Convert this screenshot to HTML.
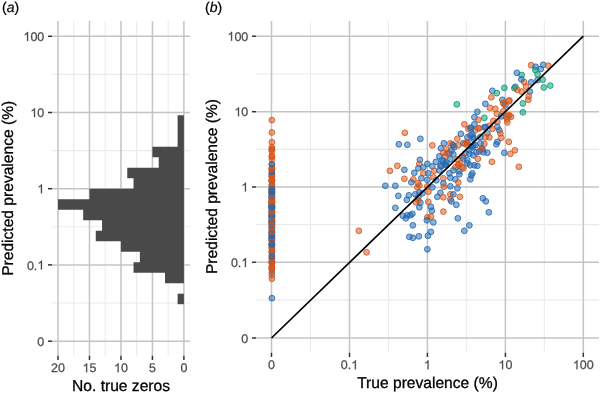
<!DOCTYPE html>
<html><head><meta charset="utf-8"><style>
html,body{margin:0;padding:0;background:#fff;width:600px;height:393px;overflow:hidden}
svg{display:block;will-change:transform}
text{text-rendering:geometricPrecision;font-family:"Liberation Sans",sans-serif;fill:#4D4D4D;stroke:#4D4D4D;stroke-width:0.25px}
</style></head><body>
<svg width="600" height="393" viewBox="0 0 600 393">
<rect width="600" height="393" fill="#fff"/>
<line x1="52.00" y1="74.40" x2="190.00" y2="74.40" stroke="#EBEBEB" stroke-width="1.1"/>
<line x1="52.00" y1="150.60" x2="190.00" y2="150.60" stroke="#EBEBEB" stroke-width="1.1"/>
<line x1="52.00" y1="226.80" x2="190.00" y2="226.80" stroke="#EBEBEB" stroke-width="1.1"/>
<line x1="52.00" y1="303.05" x2="190.00" y2="303.05" stroke="#EBEBEB" stroke-width="1.1"/>
<line x1="168.16" y1="21.00" x2="168.16" y2="355.70" stroke="#EBEBEB" stroke-width="1.1"/>
<line x1="136.69" y1="21.00" x2="136.69" y2="355.70" stroke="#EBEBEB" stroke-width="1.1"/>
<line x1="105.21" y1="21.00" x2="105.21" y2="355.70" stroke="#EBEBEB" stroke-width="1.1"/>
<line x1="73.74" y1="21.00" x2="73.74" y2="355.70" stroke="#EBEBEB" stroke-width="1.1"/>
<line x1="52.00" y1="36.30" x2="190.00" y2="36.30" stroke="#C4C4C4" stroke-width="1.5"/>
<line x1="52.00" y1="112.50" x2="190.00" y2="112.50" stroke="#C4C4C4" stroke-width="1.5"/>
<line x1="52.00" y1="188.70" x2="190.00" y2="188.70" stroke="#C4C4C4" stroke-width="1.5"/>
<line x1="52.00" y1="264.90" x2="190.00" y2="264.90" stroke="#C4C4C4" stroke-width="1.5"/>
<line x1="52.00" y1="341.20" x2="190.00" y2="341.20" stroke="#C4C4C4" stroke-width="1.5"/>
<line x1="183.90" y1="21.00" x2="183.90" y2="355.70" stroke="#C4C4C4" stroke-width="1.5"/>
<line x1="152.43" y1="21.00" x2="152.43" y2="355.70" stroke="#C4C4C4" stroke-width="1.5"/>
<line x1="120.95" y1="21.00" x2="120.95" y2="355.70" stroke="#C4C4C4" stroke-width="1.5"/>
<line x1="89.48" y1="21.00" x2="89.48" y2="355.70" stroke="#C4C4C4" stroke-width="1.5"/>
<line x1="58.00" y1="21.00" x2="58.00" y2="355.70" stroke="#C4C4C4" stroke-width="1.5"/>
<path d="M183.90,115.20 L177.61,115.20 L177.61,125.70 L177.61,125.70 L177.61,136.20 L177.61,136.20 L177.61,146.70 L152.43,146.70 L152.43,157.20 L158.72,157.20 L158.72,167.70 L127.25,167.70 L127.25,178.20 L133.54,178.20 L133.54,188.70 L89.48,188.70 L89.48,199.20 L58.00,199.20 L58.00,209.70 L83.18,209.70 L83.18,220.20 L102.07,220.20 L102.07,230.70 L95.77,230.70 L95.77,241.20 L120.95,241.20 L120.95,251.70 L139.84,251.70 L139.84,262.20 L133.54,262.20 L133.54,272.70 L165.02,272.70 L165.02,283.20 L183.90,283.20 Z" fill="#494949"/>
<path d="M183.90,293.70 L177.61,293.70 L177.61,304.20 L183.90,304.20 Z" fill="#494949"/>
<line x1="48.00" y1="36.30" x2="52.00" y2="36.30" stroke="#333333" stroke-width="1.5"/>
<line x1="48.00" y1="112.50" x2="52.00" y2="112.50" stroke="#333333" stroke-width="1.5"/>
<line x1="48.00" y1="188.70" x2="52.00" y2="188.70" stroke="#333333" stroke-width="1.5"/>
<line x1="48.00" y1="264.90" x2="52.00" y2="264.90" stroke="#333333" stroke-width="1.5"/>
<line x1="48.00" y1="341.20" x2="52.00" y2="341.20" stroke="#333333" stroke-width="1.5"/>
<line x1="183.90" y1="355.70" x2="183.90" y2="360.00" stroke="#333333" stroke-width="1.5"/>
<line x1="152.43" y1="355.70" x2="152.43" y2="360.00" stroke="#333333" stroke-width="1.5"/>
<line x1="120.95" y1="355.70" x2="120.95" y2="360.00" stroke="#333333" stroke-width="1.5"/>
<line x1="89.48" y1="355.70" x2="89.48" y2="360.00" stroke="#333333" stroke-width="1.5"/>
<line x1="58.00" y1="355.70" x2="58.00" y2="360.00" stroke="#333333" stroke-width="1.5"/>
<text x="44.30" y="40.90" font-size="12.5" text-anchor="end" ><tspan style="fill:none;stroke:none">1</tspan>00</text>
<path d="M763 0L583 0L583 1147C540 1106 483 1064 413 1023C343 982 280 951 223 930L223 1104C324 1151 412 1209 488 1276C564 1343 618 1407 649 1466L763 1466Z" transform="translate(23.450,40.900) scale(0.006104,-0.006104)" fill="#4D4D4D" stroke="#4D4D4D" stroke-width="41.0"/>
<text x="44.30" y="117.10" font-size="12.5" text-anchor="end" ><tspan style="fill:none;stroke:none">1</tspan>0</text>
<path d="M763 0L583 0L583 1147C540 1106 483 1064 413 1023C343 982 280 951 223 930L223 1104C324 1151 412 1209 488 1276C564 1343 618 1407 649 1466L763 1466Z" transform="translate(30.400,117.100) scale(0.006104,-0.006104)" fill="#4D4D4D" stroke="#4D4D4D" stroke-width="41.0"/>
<text x="44.30" y="193.30" font-size="12.5" text-anchor="end" ><tspan style="fill:none;stroke:none">1</tspan></text>
<path d="M763 0L583 0L583 1147C540 1106 483 1064 413 1023C343 982 280 951 223 930L223 1104C324 1151 412 1209 488 1276C564 1343 618 1407 649 1466L763 1466Z" transform="translate(37.350,193.300) scale(0.006104,-0.006104)" fill="#4D4D4D" stroke="#4D4D4D" stroke-width="41.0"/>
<text x="44.30" y="269.50" font-size="12.5" text-anchor="end" >0.<tspan style="fill:none;stroke:none">1</tspan></text>
<path d="M763 0L583 0L583 1147C540 1106 483 1064 413 1023C343 982 280 951 223 930L223 1104C324 1151 412 1209 488 1276C564 1343 618 1407 649 1466L763 1466Z" transform="translate(37.350,269.500) scale(0.006104,-0.006104)" fill="#4D4D4D" stroke="#4D4D4D" stroke-width="41.0"/>
<text x="44.30" y="345.80" font-size="12.5" text-anchor="end" >0</text>
<text x="183.90" y="372.20" font-size="12.5" text-anchor="middle" >0</text>
<text x="152.43" y="372.20" font-size="12.5" text-anchor="middle" >5</text>
<text x="120.95" y="372.20" font-size="12.5" text-anchor="middle" ><tspan style="fill:none;stroke:none">1</tspan>0</text>
<path d="M763 0L583 0L583 1147C540 1106 483 1064 413 1023C343 982 280 951 223 930L223 1104C324 1151 412 1209 488 1276C564 1343 618 1407 649 1466L763 1466Z" transform="translate(114.000,372.200) scale(0.006104,-0.006104)" fill="#4D4D4D" stroke="#4D4D4D" stroke-width="41.0"/>
<text x="89.48" y="372.20" font-size="12.5" text-anchor="middle" ><tspan style="fill:none;stroke:none">1</tspan>5</text>
<path d="M763 0L583 0L583 1147C540 1106 483 1064 413 1023C343 982 280 951 223 930L223 1104C324 1151 412 1209 488 1276C564 1343 618 1407 649 1466L763 1466Z" transform="translate(82.525,372.200) scale(0.006104,-0.006104)" fill="#4D4D4D" stroke="#4D4D4D" stroke-width="41.0"/>
<text x="58.00" y="372.20" font-size="12.5" text-anchor="middle" >20</text>
<text x="121.00" y="391.00" font-size="15.6" text-anchor="middle" style="fill:#000;stroke:#000;stroke-width:0.3px">No. true zeros</text>
<text transform="translate(12.6,188.3) rotate(-90)" font-size="15.6" text-anchor="middle" style="fill:#000;stroke:#000;stroke-width:0.3px">Predicted prevalence (%)</text>
<text x="2" y="11.8" font-size="14" style="fill:#000;stroke:#000;stroke-width:0.2px">(<tspan font-style="italic">a</tspan>)</text>
<line x1="256.00" y1="73.95" x2="599.00" y2="73.95" stroke="#EBEBEB" stroke-width="1.1"/>
<line x1="310.50" y1="21.00" x2="310.50" y2="352.70" stroke="#EBEBEB" stroke-width="1.1"/>
<line x1="256.00" y1="149.35" x2="599.00" y2="149.35" stroke="#EBEBEB" stroke-width="1.1"/>
<line x1="388.45" y1="21.00" x2="388.45" y2="352.70" stroke="#EBEBEB" stroke-width="1.1"/>
<line x1="256.00" y1="224.65" x2="599.00" y2="224.65" stroke="#EBEBEB" stroke-width="1.1"/>
<line x1="466.40" y1="21.00" x2="466.40" y2="352.70" stroke="#EBEBEB" stroke-width="1.1"/>
<line x1="256.00" y1="300.15" x2="599.00" y2="300.15" stroke="#EBEBEB" stroke-width="1.1"/>
<line x1="544.35" y1="21.00" x2="544.35" y2="352.70" stroke="#EBEBEB" stroke-width="1.1"/>
<line x1="256.00" y1="36.20" x2="599.00" y2="36.20" stroke="#C4C4C4" stroke-width="1.5"/>
<line x1="256.00" y1="111.70" x2="599.00" y2="111.70" stroke="#C4C4C4" stroke-width="1.5"/>
<line x1="256.00" y1="187.00" x2="599.00" y2="187.00" stroke="#C4C4C4" stroke-width="1.5"/>
<line x1="256.00" y1="262.30" x2="599.00" y2="262.30" stroke="#C4C4C4" stroke-width="1.5"/>
<line x1="256.00" y1="338.00" x2="599.00" y2="338.00" stroke="#C4C4C4" stroke-width="1.5"/>
<line x1="271.50" y1="21.00" x2="271.50" y2="352.70" stroke="#C4C4C4" stroke-width="1.5"/>
<line x1="349.50" y1="21.00" x2="349.50" y2="352.70" stroke="#C4C4C4" stroke-width="1.5"/>
<line x1="427.40" y1="21.00" x2="427.40" y2="352.70" stroke="#C4C4C4" stroke-width="1.5"/>
<line x1="505.40" y1="21.00" x2="505.40" y2="352.70" stroke="#C4C4C4" stroke-width="1.5"/>
<line x1="583.30" y1="21.00" x2="583.30" y2="352.70" stroke="#C4C4C4" stroke-width="1.5"/>
<line x1="252.00" y1="36.20" x2="256.00" y2="36.20" stroke="#333333" stroke-width="1.5"/>
<line x1="252.00" y1="111.70" x2="256.00" y2="111.70" stroke="#333333" stroke-width="1.5"/>
<line x1="252.00" y1="187.00" x2="256.00" y2="187.00" stroke="#333333" stroke-width="1.5"/>
<line x1="252.00" y1="262.30" x2="256.00" y2="262.30" stroke="#333333" stroke-width="1.5"/>
<line x1="252.00" y1="338.00" x2="256.00" y2="338.00" stroke="#333333" stroke-width="1.5"/>
<line x1="271.50" y1="352.70" x2="271.50" y2="357.00" stroke="#333333" stroke-width="1.5"/>
<line x1="349.50" y1="352.70" x2="349.50" y2="357.00" stroke="#333333" stroke-width="1.5"/>
<line x1="427.40" y1="352.70" x2="427.40" y2="357.00" stroke="#333333" stroke-width="1.5"/>
<line x1="505.40" y1="352.70" x2="505.40" y2="357.00" stroke="#333333" stroke-width="1.5"/>
<line x1="583.30" y1="352.70" x2="583.30" y2="357.00" stroke="#333333" stroke-width="1.5"/>
<text x="248.30" y="40.80" font-size="12.5" text-anchor="end" ><tspan style="fill:none;stroke:none">1</tspan>00</text>
<path d="M763 0L583 0L583 1147C540 1106 483 1064 413 1023C343 982 280 951 223 930L223 1104C324 1151 412 1209 488 1276C564 1343 618 1407 649 1466L763 1466Z" transform="translate(227.450,40.800) scale(0.006104,-0.006104)" fill="#4D4D4D" stroke="#4D4D4D" stroke-width="41.0"/>
<text x="248.30" y="116.30" font-size="12.5" text-anchor="end" ><tspan style="fill:none;stroke:none">1</tspan>0</text>
<path d="M763 0L583 0L583 1147C540 1106 483 1064 413 1023C343 982 280 951 223 930L223 1104C324 1151 412 1209 488 1276C564 1343 618 1407 649 1466L763 1466Z" transform="translate(234.400,116.300) scale(0.006104,-0.006104)" fill="#4D4D4D" stroke="#4D4D4D" stroke-width="41.0"/>
<text x="248.30" y="191.60" font-size="12.5" text-anchor="end" ><tspan style="fill:none;stroke:none">1</tspan></text>
<path d="M763 0L583 0L583 1147C540 1106 483 1064 413 1023C343 982 280 951 223 930L223 1104C324 1151 412 1209 488 1276C564 1343 618 1407 649 1466L763 1466Z" transform="translate(241.350,191.600) scale(0.006104,-0.006104)" fill="#4D4D4D" stroke="#4D4D4D" stroke-width="41.0"/>
<text x="248.30" y="266.90" font-size="12.5" text-anchor="end" >0.<tspan style="fill:none;stroke:none">1</tspan></text>
<path d="M763 0L583 0L583 1147C540 1106 483 1064 413 1023C343 982 280 951 223 930L223 1104C324 1151 412 1209 488 1276C564 1343 618 1407 649 1466L763 1466Z" transform="translate(241.350,266.900) scale(0.006104,-0.006104)" fill="#4D4D4D" stroke="#4D4D4D" stroke-width="41.0"/>
<text x="248.30" y="342.60" font-size="12.5" text-anchor="end" >0</text>
<text x="271.50" y="369.30" font-size="12.5" text-anchor="middle" >0</text>
<text x="349.50" y="369.30" font-size="12.5" text-anchor="middle" >0.<tspan style="fill:none;stroke:none">1</tspan></text>
<path d="M763 0L583 0L583 1147C540 1106 483 1064 413 1023C343 982 280 951 223 930L223 1104C324 1151 412 1209 488 1276C564 1343 618 1407 649 1466L763 1466Z" transform="translate(351.238,369.300) scale(0.006104,-0.006104)" fill="#4D4D4D" stroke="#4D4D4D" stroke-width="41.0"/>
<text x="427.40" y="369.30" font-size="12.5" text-anchor="middle" ><tspan style="fill:none;stroke:none">1</tspan></text>
<path d="M763 0L583 0L583 1147C540 1106 483 1064 413 1023C343 982 280 951 223 930L223 1104C324 1151 412 1209 488 1276C564 1343 618 1407 649 1466L763 1466Z" transform="translate(423.925,369.300) scale(0.006104,-0.006104)" fill="#4D4D4D" stroke="#4D4D4D" stroke-width="41.0"/>
<text x="505.40" y="369.30" font-size="12.5" text-anchor="middle" ><tspan style="fill:none;stroke:none">1</tspan>0</text>
<path d="M763 0L583 0L583 1147C540 1106 483 1064 413 1023C343 982 280 951 223 930L223 1104C324 1151 412 1209 488 1276C564 1343 618 1407 649 1466L763 1466Z" transform="translate(498.450,369.300) scale(0.006104,-0.006104)" fill="#4D4D4D" stroke="#4D4D4D" stroke-width="41.0"/>
<text x="583.30" y="369.30" font-size="12.5" text-anchor="middle" ><tspan style="fill:none;stroke:none">1</tspan>00</text>
<path d="M763 0L583 0L583 1147C540 1106 483 1064 413 1023C343 982 280 951 223 930L223 1104C324 1151 412 1209 488 1276C564 1343 618 1407 649 1466L763 1466Z" transform="translate(572.875,369.300) scale(0.006104,-0.006104)" fill="#4D4D4D" stroke="#4D4D4D" stroke-width="41.0"/>
<text x="427.50" y="388.30" font-size="15.6" text-anchor="middle" style="fill:#000;stroke:#000;stroke-width:0.3px">True prevalence (%)</text>
<text transform="translate(216.6,186.5) rotate(-90)" font-size="15.6" text-anchor="middle" style="fill:#000;stroke:#000;stroke-width:0.3px">Predicted prevalence (%)</text>
<text x="205" y="11.8" font-size="14" style="fill:#000;stroke:#000;stroke-width:0.2px">(<tspan font-style="italic">b</tspan>)</text>
<g fill-opacity="0.52" stroke-opacity="0.85" stroke-width="1.0"><circle cx="271.85" cy="202.67" r="2.9" fill="#2268B0" stroke="#2268B0"/><circle cx="271.85" cy="207.77" r="2.9" fill="#2268B0" stroke="#2268B0"/><circle cx="271.85" cy="230.35" r="2.9" fill="#D6561A" stroke="#D6561A"/><circle cx="271.85" cy="252.3" r="2.9" fill="#2268B0" stroke="#2268B0"/><circle cx="271.85" cy="175.88" r="2.9" fill="#D6561A" stroke="#D6561A"/><circle cx="271.85" cy="223.98" r="2.9" fill="#2268B0" stroke="#2268B0"/><circle cx="271.85" cy="267.78" r="2.9" fill="#D6561A" stroke="#D6561A"/><circle cx="271.85" cy="278.73" r="2.9" fill="#D6561A" stroke="#D6561A"/><circle cx="271.85" cy="272.48" r="2.9" fill="#2268B0" stroke="#2268B0"/><circle cx="271.85" cy="173.95" r="2.9" fill="#D6561A" stroke="#D6561A"/><circle cx="271.85" cy="156.69" r="2.9" fill="#D6561A" stroke="#D6561A"/><circle cx="271.85" cy="215.06" r="2.9" fill="#2268B0" stroke="#2268B0"/><circle cx="271.85" cy="197.97" r="2.9" fill="#D6561A" stroke="#D6561A"/><circle cx="271.85" cy="156.07" r="2.9" fill="#D6561A" stroke="#D6561A"/><circle cx="271.85" cy="132.4" r="2.9" fill="#D6561A" stroke="#D6561A"/><circle cx="271.85" cy="240.06" r="2.9" fill="#D6561A" stroke="#D6561A"/><circle cx="271.85" cy="221.52" r="2.9" fill="#D6561A" stroke="#D6561A"/><circle cx="271.85" cy="227.12" r="2.9" fill="#2268B0" stroke="#2268B0"/><circle cx="271.85" cy="198.55" r="2.9" fill="#2268B0" stroke="#2268B0"/><circle cx="271.85" cy="248.36" r="2.9" fill="#D6561A" stroke="#D6561A"/><circle cx="271.85" cy="208.29" r="2.9" fill="#2268B0" stroke="#2268B0"/><circle cx="271.85" cy="176.83" r="2.9" fill="#D6561A" stroke="#D6561A"/><circle cx="271.85" cy="247.73" r="2.9" fill="#D6561A" stroke="#D6561A"/><circle cx="271.85" cy="221.11" r="2.9" fill="#D6561A" stroke="#D6561A"/><circle cx="271.85" cy="201.75" r="2.9" fill="#2268B0" stroke="#2268B0"/><circle cx="271.85" cy="220.5" r="2.9" fill="#2268B0" stroke="#2268B0"/><circle cx="271.85" cy="232.85" r="2.9" fill="#D6561A" stroke="#D6561A"/><circle cx="271.85" cy="193.09" r="2.9" fill="#2268B0" stroke="#2268B0"/><circle cx="271.85" cy="245.14" r="2.9" fill="#D6561A" stroke="#D6561A"/><circle cx="271.85" cy="223.09" r="2.9" fill="#2268B0" stroke="#2268B0"/><circle cx="271.85" cy="235.48" r="2.9" fill="#2268B0" stroke="#2268B0"/><circle cx="271.85" cy="196.75" r="2.9" fill="#2268B0" stroke="#2268B0"/><circle cx="271.85" cy="180.86" r="2.9" fill="#2268B0" stroke="#2268B0"/><circle cx="271.85" cy="218.16" r="2.9" fill="#2268B0" stroke="#2268B0"/><circle cx="271.85" cy="185.13" r="2.9" fill="#2268B0" stroke="#2268B0"/><circle cx="271.85" cy="214.21" r="2.9" fill="#D6561A" stroke="#D6561A"/><circle cx="271.85" cy="258.89" r="2.9" fill="#D6561A" stroke="#D6561A"/><circle cx="271.85" cy="180.42" r="2.9" fill="#D6561A" stroke="#D6561A"/><circle cx="271.85" cy="238.7" r="2.9" fill="#2268B0" stroke="#2268B0"/><circle cx="271.85" cy="181.35" r="2.9" fill="#D6561A" stroke="#D6561A"/><circle cx="271.85" cy="193.73" r="2.9" fill="#D6561A" stroke="#D6561A"/><circle cx="271.85" cy="188.77" r="2.9" fill="#2268B0" stroke="#2268B0"/><circle cx="271.85" cy="252.08" r="2.9" fill="#2268B0" stroke="#2268B0"/><circle cx="271.85" cy="237.04" r="2.9" fill="#D6561A" stroke="#D6561A"/><circle cx="271.85" cy="238.73" r="2.9" fill="#D6561A" stroke="#D6561A"/><circle cx="271.85" cy="205.93" r="2.9" fill="#2268B0" stroke="#2268B0"/><circle cx="271.85" cy="261.9" r="2.9" fill="#2268B0" stroke="#2268B0"/><circle cx="271.85" cy="208.05" r="2.9" fill="#2268B0" stroke="#2268B0"/><circle cx="271.85" cy="217.66" r="2.9" fill="#2268B0" stroke="#2268B0"/><circle cx="271.85" cy="176.25" r="2.9" fill="#D6561A" stroke="#D6561A"/><circle cx="271.85" cy="202.86" r="2.9" fill="#2268B0" stroke="#2268B0"/><circle cx="271.85" cy="211.92" r="2.9" fill="#D6561A" stroke="#D6561A"/><circle cx="271.85" cy="204.09" r="2.9" fill="#2268B0" stroke="#2268B0"/><circle cx="271.85" cy="205.26" r="2.9" fill="#2268B0" stroke="#2268B0"/><circle cx="271.85" cy="241.29" r="2.9" fill="#2268B0" stroke="#2268B0"/><circle cx="271.85" cy="191.99" r="2.9" fill="#D6561A" stroke="#D6561A"/><circle cx="271.85" cy="151.54" r="2.9" fill="#D6561A" stroke="#D6561A"/><circle cx="271.85" cy="212.05" r="2.9" fill="#2268B0" stroke="#2268B0"/><circle cx="271.85" cy="298.2" r="2.9" fill="#2268B0" stroke="#2268B0"/><circle cx="271.85" cy="234.88" r="2.9" fill="#2268B0" stroke="#2268B0"/><circle cx="271.85" cy="190.28" r="2.9" fill="#D6561A" stroke="#D6561A"/><circle cx="271.85" cy="209.79" r="2.9" fill="#D6561A" stroke="#D6561A"/><circle cx="271.85" cy="262.73" r="2.9" fill="#2268B0" stroke="#2268B0"/><circle cx="271.85" cy="149.2" r="2.9" fill="#D6561A" stroke="#D6561A"/><circle cx="271.85" cy="216.55" r="2.9" fill="#2268B0" stroke="#2268B0"/><circle cx="271.85" cy="193.62" r="2.9" fill="#D6561A" stroke="#D6561A"/><circle cx="271.85" cy="192.8" r="2.9" fill="#2268B0" stroke="#2268B0"/><circle cx="271.85" cy="206.9" r="2.9" fill="#D6561A" stroke="#D6561A"/><circle cx="271.85" cy="169.51" r="2.9" fill="#D6561A" stroke="#D6561A"/><circle cx="271.85" cy="216.02" r="2.9" fill="#2268B0" stroke="#2268B0"/><circle cx="271.85" cy="232.1" r="2.9" fill="#2268B0" stroke="#2268B0"/><circle cx="271.85" cy="197.03" r="2.9" fill="#D6561A" stroke="#D6561A"/><circle cx="271.85" cy="238.19" r="2.9" fill="#2268B0" stroke="#2268B0"/><circle cx="271.85" cy="179.61" r="2.9" fill="#D6561A" stroke="#D6561A"/><circle cx="271.85" cy="227.21" r="2.9" fill="#2268B0" stroke="#2268B0"/><circle cx="271.85" cy="168.08" r="2.9" fill="#D6561A" stroke="#D6561A"/><circle cx="271.85" cy="261.34" r="2.9" fill="#D6561A" stroke="#D6561A"/><circle cx="271.85" cy="268.6" r="2.9" fill="#D6561A" stroke="#D6561A"/><circle cx="271.85" cy="263.32" r="2.9" fill="#D6561A" stroke="#D6561A"/><circle cx="271.85" cy="149.61" r="2.9" fill="#D6561A" stroke="#D6561A"/><circle cx="271.85" cy="201.61" r="2.9" fill="#2268B0" stroke="#2268B0"/><circle cx="271.85" cy="188.97" r="2.9" fill="#2268B0" stroke="#2268B0"/><circle cx="271.85" cy="174.08" r="2.9" fill="#D6561A" stroke="#D6561A"/><circle cx="271.85" cy="206.43" r="2.9" fill="#2268B0" stroke="#2268B0"/><circle cx="271.85" cy="120.1" r="2.9" fill="#D6561A" stroke="#D6561A"/><circle cx="271.85" cy="244.34" r="2.9" fill="#2268B0" stroke="#2268B0"/><circle cx="271.85" cy="226.66" r="2.9" fill="#D6561A" stroke="#D6561A"/><circle cx="271.85" cy="246.83" r="2.9" fill="#D6561A" stroke="#D6561A"/><circle cx="271.85" cy="213.0" r="2.9" fill="#2268B0" stroke="#2268B0"/><circle cx="271.85" cy="258.38" r="2.9" fill="#D6561A" stroke="#D6561A"/><circle cx="271.85" cy="266.45" r="2.9" fill="#D6561A" stroke="#D6561A"/><circle cx="271.85" cy="222.77" r="2.9" fill="#2268B0" stroke="#2268B0"/><circle cx="271.85" cy="200.28" r="2.9" fill="#D6561A" stroke="#D6561A"/><circle cx="271.85" cy="210.76" r="2.9" fill="#D6561A" stroke="#D6561A"/><circle cx="271.85" cy="221.63" r="2.9" fill="#2268B0" stroke="#2268B0"/><circle cx="271.85" cy="229.44" r="2.9" fill="#2268B0" stroke="#2268B0"/><circle cx="271.85" cy="233.77" r="2.9" fill="#2268B0" stroke="#2268B0"/><circle cx="271.85" cy="244.59" r="2.9" fill="#2268B0" stroke="#2268B0"/><circle cx="271.85" cy="206.09" r="2.9" fill="#2268B0" stroke="#2268B0"/><circle cx="271.85" cy="169.8" r="2.9" fill="#D6561A" stroke="#D6561A"/><circle cx="271.85" cy="190.94" r="2.9" fill="#D6561A" stroke="#D6561A"/><circle cx="271.85" cy="212.56" r="2.9" fill="#D6561A" stroke="#D6561A"/><circle cx="271.85" cy="199.76" r="2.9" fill="#D6561A" stroke="#D6561A"/><circle cx="271.85" cy="196.65" r="2.9" fill="#2268B0" stroke="#2268B0"/><circle cx="271.85" cy="147.05" r="2.9" fill="#D6561A" stroke="#D6561A"/><circle cx="271.85" cy="172.1" r="2.9" fill="#2268B0" stroke="#2268B0"/><circle cx="271.85" cy="240.45" r="2.9" fill="#D6561A" stroke="#D6561A"/><circle cx="271.85" cy="187.29" r="2.9" fill="#D6561A" stroke="#D6561A"/><circle cx="271.85" cy="203.66" r="2.9" fill="#D6561A" stroke="#D6561A"/><circle cx="271.85" cy="236.11" r="2.9" fill="#2268B0" stroke="#2268B0"/><circle cx="271.85" cy="159.21" r="2.9" fill="#D6561A" stroke="#D6561A"/><circle cx="271.85" cy="215.51" r="2.9" fill="#2268B0" stroke="#2268B0"/><circle cx="271.85" cy="255.25" r="2.9" fill="#D6561A" stroke="#D6561A"/><circle cx="271.85" cy="191.31" r="2.9" fill="#2268B0" stroke="#2268B0"/><circle cx="271.85" cy="211.82" r="2.9" fill="#D6561A" stroke="#D6561A"/><circle cx="271.85" cy="185.26" r="2.9" fill="#D6561A" stroke="#D6561A"/><circle cx="271.85" cy="189.41" r="2.9" fill="#2268B0" stroke="#2268B0"/><circle cx="271.85" cy="142.1" r="2.9" fill="#D6561A" stroke="#D6561A"/><circle cx="271.85" cy="205.95" r="2.9" fill="#2268B0" stroke="#2268B0"/><circle cx="271.85" cy="256.26" r="2.9" fill="#2268B0" stroke="#2268B0"/><circle cx="271.85" cy="224.38" r="2.9" fill="#2268B0" stroke="#2268B0"/><circle cx="271.85" cy="203.17" r="2.9" fill="#D6561A" stroke="#D6561A"/><circle cx="271.85" cy="195.77" r="2.9" fill="#2268B0" stroke="#2268B0"/><circle cx="271.85" cy="225.81" r="2.9" fill="#D6561A" stroke="#D6561A"/><circle cx="271.85" cy="269.69" r="2.9" fill="#D6561A" stroke="#D6561A"/><circle cx="271.85" cy="207.77" r="2.9" fill="#2268B0" stroke="#2268B0"/><circle cx="271.85" cy="220.02" r="2.9" fill="#D6561A" stroke="#D6561A"/><circle cx="271.85" cy="275.14" r="2.9" fill="#D6561A" stroke="#D6561A"/><circle cx="271.85" cy="168.16" r="2.9" fill="#D6561A" stroke="#D6561A"/><circle cx="271.85" cy="244.02" r="2.9" fill="#2268B0" stroke="#2268B0"/><circle cx="271.85" cy="165.11" r="2.9" fill="#D6561A" stroke="#D6561A"/><circle cx="271.85" cy="232.66" r="2.9" fill="#2268B0" stroke="#2268B0"/><circle cx="271.85" cy="250.76" r="2.9" fill="#D6561A" stroke="#D6561A"/><circle cx="271.85" cy="231.86" r="2.9" fill="#D6561A" stroke="#D6561A"/><circle cx="271.85" cy="164.07" r="2.9" fill="#2268B0" stroke="#2268B0"/><circle cx="271.85" cy="198.13" r="2.9" fill="#D6561A" stroke="#D6561A"/><circle cx="531.15" cy="65.2" r="2.9" fill="#D6561A" stroke="#D6561A"/><circle cx="535.65" cy="66.8" r="2.9" fill="#2268B0" stroke="#2268B0"/><circle cx="543.25" cy="64.8" r="2.9" fill="#2268B0" stroke="#2268B0"/><circle cx="548.35" cy="65.7" r="2.9" fill="#D6561A" stroke="#D6561A"/><circle cx="535.35" cy="69.9" r="2.9" fill="#009E73" stroke="#009E73"/><circle cx="540.75" cy="69.0" r="2.9" fill="#2268B0" stroke="#2268B0"/><circle cx="537.55" cy="74.4" r="2.9" fill="#009E73" stroke="#009E73"/><circle cx="521.65" cy="75.0" r="2.9" fill="#009E73" stroke="#009E73"/><circle cx="537.55" cy="80.1" r="2.9" fill="#2268B0" stroke="#2268B0"/><circle cx="542.65" cy="79.7" r="2.9" fill="#009E73" stroke="#009E73"/><circle cx="531.15" cy="82.3" r="2.9" fill="#2268B0" stroke="#2268B0"/><circle cx="524.15" cy="82.0" r="2.9" fill="#D6561A" stroke="#D6561A"/><circle cx="526.05" cy="86.5" r="2.9" fill="#D6561A" stroke="#D6561A"/><circle cx="543.85" cy="87.4" r="2.9" fill="#009E73" stroke="#009E73"/><circle cx="550.25" cy="85.6" r="2.9" fill="#009E73" stroke="#009E73"/><circle cx="529.85" cy="91.6" r="2.9" fill="#2268B0" stroke="#2268B0"/><circle cx="521.65" cy="91.6" r="2.9" fill="#D6561A" stroke="#D6561A"/><circle cx="528.65" cy="96.3" r="2.9" fill="#D6561A" stroke="#D6561A"/><circle cx="528.35" cy="99.8" r="2.9" fill="#D6561A" stroke="#D6561A"/><circle cx="522.85" cy="103.4" r="2.9" fill="#009E73" stroke="#009E73"/><circle cx="516.85" cy="72.8" r="2.9" fill="#2268B0" stroke="#2268B0"/><circle cx="521.35" cy="79.3" r="2.9" fill="#2268B0" stroke="#2268B0"/><circle cx="515.35" cy="86.8" r="2.9" fill="#2268B0" stroke="#2268B0"/><circle cx="514.35" cy="88.1" r="2.9" fill="#009E73" stroke="#009E73"/><circle cx="504.35" cy="87.8" r="2.9" fill="#009E73" stroke="#009E73"/><circle cx="517.35" cy="89.8" r="2.9" fill="#D6561A" stroke="#D6561A"/><circle cx="492.35" cy="90.8" r="2.9" fill="#2268B0" stroke="#2268B0"/><circle cx="496.85" cy="93.1" r="2.9" fill="#009E73" stroke="#009E73"/><circle cx="491.35" cy="97.3" r="2.9" fill="#D6561A" stroke="#D6561A"/><circle cx="502.35" cy="99.8" r="2.9" fill="#2268B0" stroke="#2268B0"/><circle cx="509.35" cy="100.3" r="2.9" fill="#D6561A" stroke="#D6561A"/><circle cx="503.35" cy="102.8" r="2.9" fill="#D6561A" stroke="#D6561A"/><circle cx="485.35" cy="103.8" r="2.9" fill="#2268B0" stroke="#2268B0"/><circle cx="505.35" cy="105.3" r="2.9" fill="#2268B0" stroke="#2268B0"/><circle cx="489.85" cy="107.8" r="2.9" fill="#D6561A" stroke="#D6561A"/><circle cx="495.35" cy="108.8" r="2.9" fill="#D6561A" stroke="#D6561A"/><circle cx="477.35" cy="111.8" r="2.9" fill="#2268B0" stroke="#2268B0"/><circle cx="496.85" cy="113.8" r="2.9" fill="#D6561A" stroke="#D6561A"/><circle cx="503.35" cy="111.3" r="2.9" fill="#D6561A" stroke="#D6561A"/><circle cx="509.35" cy="115.3" r="2.9" fill="#D6561A" stroke="#D6561A"/><circle cx="506.35" cy="116.8" r="2.9" fill="#D6561A" stroke="#D6561A"/><circle cx="501.35" cy="116.3" r="2.9" fill="#2268B0" stroke="#2268B0"/><circle cx="522.85" cy="112.3" r="2.9" fill="#009E73" stroke="#009E73"/><circle cx="484.35" cy="117.8" r="2.9" fill="#009E73" stroke="#009E73"/><circle cx="474.35" cy="117.3" r="2.9" fill="#2268B0" stroke="#2268B0"/><circle cx="478.35" cy="119.8" r="2.9" fill="#D6561A" stroke="#D6561A"/><circle cx="507.35" cy="122.3" r="2.9" fill="#D6561A" stroke="#D6561A"/><circle cx="493.35" cy="120.8" r="2.9" fill="#D6561A" stroke="#D6561A"/><circle cx="497.35" cy="121.8" r="2.9" fill="#D6561A" stroke="#D6561A"/><circle cx="474.35" cy="124.3" r="2.9" fill="#2268B0" stroke="#2268B0"/><circle cx="489.35" cy="125.8" r="2.9" fill="#D6561A" stroke="#D6561A"/><circle cx="484.35" cy="127.3" r="2.9" fill="#2268B0" stroke="#2268B0"/><circle cx="497.35" cy="126.8" r="2.9" fill="#2268B0" stroke="#2268B0"/><circle cx="492.35" cy="128.8" r="2.9" fill="#D6561A" stroke="#D6561A"/><circle cx="479.35" cy="128.3" r="2.9" fill="#D6561A" stroke="#D6561A"/><circle cx="475.35" cy="130.3" r="2.9" fill="#D6561A" stroke="#D6561A"/><circle cx="471.35" cy="128.3" r="2.9" fill="#2268B0" stroke="#2268B0"/><circle cx="499.35" cy="130.3" r="2.9" fill="#2268B0" stroke="#2268B0"/><circle cx="500.35" cy="133.3" r="2.9" fill="#D6561A" stroke="#D6561A"/><circle cx="487.35" cy="133.3" r="2.9" fill="#2268B0" stroke="#2268B0"/><circle cx="472.35" cy="134.3" r="2.9" fill="#2268B0" stroke="#2268B0"/><circle cx="485.35" cy="137.3" r="2.9" fill="#D6561A" stroke="#D6561A"/><circle cx="501.35" cy="137.8" r="2.9" fill="#D6561A" stroke="#D6561A"/><circle cx="456.85" cy="104.3" r="2.9" fill="#009E73" stroke="#009E73"/><circle cx="464.35" cy="124.3" r="2.9" fill="#D6561A" stroke="#D6561A"/><circle cx="468.35" cy="128.8" r="2.9" fill="#D6561A" stroke="#D6561A"/><circle cx="460.85" cy="133.8" r="2.9" fill="#2268B0" stroke="#2268B0"/><circle cx="467.35" cy="137.3" r="2.9" fill="#2268B0" stroke="#2268B0"/><circle cx="457.35" cy="138.8" r="2.9" fill="#D6561A" stroke="#D6561A"/><circle cx="420.35" cy="138.8" r="2.9" fill="#2268B0" stroke="#2268B0"/><circle cx="432.35" cy="145.3" r="2.9" fill="#D6561A" stroke="#D6561A"/><circle cx="443.85" cy="143.3" r="2.9" fill="#2268B0" stroke="#2268B0"/><circle cx="450.35" cy="143.3" r="2.9" fill="#D6561A" stroke="#D6561A"/><circle cx="440.85" cy="148.3" r="2.9" fill="#2268B0" stroke="#2268B0"/><circle cx="446.35" cy="148.8" r="2.9" fill="#D6561A" stroke="#D6561A"/><circle cx="454.35" cy="147.3" r="2.9" fill="#2268B0" stroke="#2268B0"/><circle cx="452.35" cy="144.3" r="2.9" fill="#D6561A" stroke="#D6561A"/><circle cx="458.35" cy="145.3" r="2.9" fill="#D6561A" stroke="#D6561A"/><circle cx="463.35" cy="143.3" r="2.9" fill="#2268B0" stroke="#2268B0"/><circle cx="467.35" cy="142.3" r="2.9" fill="#2268B0" stroke="#2268B0"/><circle cx="467.35" cy="145.3" r="2.9" fill="#D6561A" stroke="#D6561A"/><circle cx="469.35" cy="150.3" r="2.9" fill="#2268B0" stroke="#2268B0"/><circle cx="472.35" cy="147.3" r="2.9" fill="#2268B0" stroke="#2268B0"/><circle cx="443.35" cy="152.8" r="2.9" fill="#D6561A" stroke="#D6561A"/><circle cx="445.35" cy="155.8" r="2.9" fill="#D6561A" stroke="#D6561A"/><circle cx="449.35" cy="153.3" r="2.9" fill="#2268B0" stroke="#2268B0"/><circle cx="453.35" cy="154.3" r="2.9" fill="#2268B0" stroke="#2268B0"/><circle cx="439.35" cy="156.3" r="2.9" fill="#2268B0" stroke="#2268B0"/><circle cx="473.35" cy="155.3" r="2.9" fill="#2268B0" stroke="#2268B0"/><circle cx="465.35" cy="153.3" r="2.9" fill="#2268B0" stroke="#2268B0"/><circle cx="462.35" cy="156.3" r="2.9" fill="#D6561A" stroke="#D6561A"/><circle cx="419.85" cy="159.8" r="2.9" fill="#2268B0" stroke="#2268B0"/><circle cx="419.35" cy="163.8" r="2.9" fill="#D6561A" stroke="#D6561A"/><circle cx="427.35" cy="163.8" r="2.9" fill="#2268B0" stroke="#2268B0"/><circle cx="435.85" cy="161.8" r="2.9" fill="#2268B0" stroke="#2268B0"/><circle cx="441.85" cy="160.3" r="2.9" fill="#2268B0" stroke="#2268B0"/><circle cx="446.35" cy="162.3" r="2.9" fill="#2268B0" stroke="#2268B0"/><circle cx="450.35" cy="159.3" r="2.9" fill="#2268B0" stroke="#2268B0"/><circle cx="457.35" cy="159.3" r="2.9" fill="#D6561A" stroke="#D6561A"/><circle cx="467.35" cy="160.3" r="2.9" fill="#2268B0" stroke="#2268B0"/><circle cx="460.35" cy="163.3" r="2.9" fill="#D6561A" stroke="#D6561A"/><circle cx="470.35" cy="165.3" r="2.9" fill="#2268B0" stroke="#2268B0"/><circle cx="418.35" cy="168.3" r="2.9" fill="#2268B0" stroke="#2268B0"/><circle cx="423.35" cy="167.3" r="2.9" fill="#2268B0" stroke="#2268B0"/><circle cx="432.35" cy="166.3" r="2.9" fill="#2268B0" stroke="#2268B0"/><circle cx="440.35" cy="165.8" r="2.9" fill="#2268B0" stroke="#2268B0"/><circle cx="446.35" cy="165.3" r="2.9" fill="#2268B0" stroke="#2268B0"/><circle cx="455.35" cy="167.3" r="2.9" fill="#D6561A" stroke="#D6561A"/><circle cx="458.35" cy="165.3" r="2.9" fill="#D6561A" stroke="#D6561A"/><circle cx="463.35" cy="168.3" r="2.9" fill="#D6561A" stroke="#D6561A"/><circle cx="474.35" cy="165.3" r="2.9" fill="#2268B0" stroke="#2268B0"/><circle cx="434.35" cy="170.8" r="2.9" fill="#D6561A" stroke="#D6561A"/><circle cx="439.35" cy="170.3" r="2.9" fill="#2268B0" stroke="#2268B0"/><circle cx="459.35" cy="171.3" r="2.9" fill="#2268B0" stroke="#2268B0"/><circle cx="423.35" cy="173.3" r="2.9" fill="#D6561A" stroke="#D6561A"/><circle cx="428.35" cy="173.3" r="2.9" fill="#2268B0" stroke="#2268B0"/><circle cx="472.35" cy="173.3" r="2.9" fill="#2268B0" stroke="#2268B0"/><circle cx="473.35" cy="137.3" r="2.9" fill="#2268B0" stroke="#2268B0"/><circle cx="508.85" cy="141.8" r="2.9" fill="#D6561A" stroke="#D6561A"/><circle cx="497.35" cy="141.8" r="2.9" fill="#2268B0" stroke="#2268B0"/><circle cx="496.35" cy="144.3" r="2.9" fill="#2268B0" stroke="#2268B0"/><circle cx="484.35" cy="143.8" r="2.9" fill="#D6561A" stroke="#D6561A"/><circle cx="480.35" cy="143.3" r="2.9" fill="#2268B0" stroke="#2268B0"/><circle cx="475.35" cy="145.3" r="2.9" fill="#2268B0" stroke="#2268B0"/><circle cx="482.35" cy="149.3" r="2.9" fill="#D6561A" stroke="#D6561A"/><circle cx="479.35" cy="151.3" r="2.9" fill="#2268B0" stroke="#2268B0"/><circle cx="487.35" cy="152.8" r="2.9" fill="#2268B0" stroke="#2268B0"/><circle cx="483.35" cy="152.3" r="2.9" fill="#2268B0" stroke="#2268B0"/><circle cx="476.35" cy="152.3" r="2.9" fill="#2268B0" stroke="#2268B0"/><circle cx="504.35" cy="152.8" r="2.9" fill="#2268B0" stroke="#2268B0"/><circle cx="510.35" cy="153.8" r="2.9" fill="#D6561A" stroke="#D6561A"/><circle cx="514.85" cy="150.3" r="2.9" fill="#D6561A" stroke="#D6561A"/><circle cx="477.85" cy="158.8" r="2.9" fill="#D6561A" stroke="#D6561A"/><circle cx="491.85" cy="161.8" r="2.9" fill="#D6561A" stroke="#D6561A"/><circle cx="477.35" cy="165.8" r="2.9" fill="#2268B0" stroke="#2268B0"/><circle cx="518.85" cy="166.8" r="2.9" fill="#D6561A" stroke="#D6561A"/><circle cx="398.85" cy="144.3" r="2.9" fill="#2268B0" stroke="#2268B0"/><circle cx="407.35" cy="144.8" r="2.9" fill="#2268B0" stroke="#2268B0"/><circle cx="397.35" cy="165.8" r="2.9" fill="#D6561A" stroke="#D6561A"/><circle cx="389.85" cy="170.8" r="2.9" fill="#D6561A" stroke="#D6561A"/><circle cx="404.35" cy="169.8" r="2.9" fill="#2268B0" stroke="#2268B0"/><circle cx="414.35" cy="172.8" r="2.9" fill="#2268B0" stroke="#2268B0"/><circle cx="404.85" cy="132.8" r="2.9" fill="#D6561A" stroke="#D6561A"/><circle cx="404.35" cy="178.8" r="2.9" fill="#D6561A" stroke="#D6561A"/><circle cx="413.35" cy="179.3" r="2.9" fill="#D6561A" stroke="#D6561A"/><circle cx="411.35" cy="182.3" r="2.9" fill="#2268B0" stroke="#2268B0"/><circle cx="417.85" cy="183.3" r="2.9" fill="#D6561A" stroke="#D6561A"/><circle cx="417.35" cy="187.3" r="2.9" fill="#D6561A" stroke="#D6561A"/><circle cx="385.35" cy="185.8" r="2.9" fill="#2268B0" stroke="#2268B0"/><circle cx="395.35" cy="185.8" r="2.9" fill="#2268B0" stroke="#2268B0"/><circle cx="398.35" cy="195.8" r="2.9" fill="#2268B0" stroke="#2268B0"/><circle cx="408.85" cy="195.3" r="2.9" fill="#2268B0" stroke="#2268B0"/><circle cx="406.85" cy="199.8" r="2.9" fill="#2268B0" stroke="#2268B0"/><circle cx="415.35" cy="194.3" r="2.9" fill="#2268B0" stroke="#2268B0"/><circle cx="415.85" cy="202.3" r="2.9" fill="#D6561A" stroke="#D6561A"/><circle cx="395.35" cy="207.8" r="2.9" fill="#2268B0" stroke="#2268B0"/><circle cx="419.35" cy="192.3" r="2.9" fill="#2268B0" stroke="#2268B0"/><circle cx="419.35" cy="207.3" r="2.9" fill="#2268B0" stroke="#2268B0"/><circle cx="449.35" cy="173.3" r="2.9" fill="#2268B0" stroke="#2268B0"/><circle cx="459.35" cy="174.3" r="2.9" fill="#2268B0" stroke="#2268B0"/><circle cx="433.35" cy="177.3" r="2.9" fill="#D6561A" stroke="#D6561A"/><circle cx="421.35" cy="178.3" r="2.9" fill="#2268B0" stroke="#2268B0"/><circle cx="427.35" cy="179.8" r="2.9" fill="#2268B0" stroke="#2268B0"/><circle cx="436.35" cy="180.3" r="2.9" fill="#2268B0" stroke="#2268B0"/><circle cx="443.35" cy="178.3" r="2.9" fill="#D6561A" stroke="#D6561A"/><circle cx="450.35" cy="177.8" r="2.9" fill="#2268B0" stroke="#2268B0"/><circle cx="455.35" cy="179.3" r="2.9" fill="#2268B0" stroke="#2268B0"/><circle cx="458.35" cy="182.3" r="2.9" fill="#D6561A" stroke="#D6561A"/><circle cx="471.35" cy="175.3" r="2.9" fill="#2268B0" stroke="#2268B0"/><circle cx="470.35" cy="179.3" r="2.9" fill="#2268B0" stroke="#2268B0"/><circle cx="419.35" cy="185.3" r="2.9" fill="#D6561A" stroke="#D6561A"/><circle cx="427.35" cy="186.3" r="2.9" fill="#D6561A" stroke="#D6561A"/><circle cx="432.35" cy="187.3" r="2.9" fill="#2268B0" stroke="#2268B0"/><circle cx="443.35" cy="183.3" r="2.9" fill="#2268B0" stroke="#2268B0"/><circle cx="443.85" cy="186.8" r="2.9" fill="#D6561A" stroke="#D6561A"/><circle cx="450.35" cy="186.3" r="2.9" fill="#2268B0" stroke="#2268B0"/><circle cx="457.35" cy="188.3" r="2.9" fill="#2268B0" stroke="#2268B0"/><circle cx="428.35" cy="191.8" r="2.9" fill="#D6561A" stroke="#D6561A"/><circle cx="422.35" cy="193.3" r="2.9" fill="#2268B0" stroke="#2268B0"/><circle cx="440.35" cy="192.8" r="2.9" fill="#2268B0" stroke="#2268B0"/><circle cx="437.35" cy="196.8" r="2.9" fill="#2268B0" stroke="#2268B0"/><circle cx="443.35" cy="197.3" r="2.9" fill="#D6561A" stroke="#D6561A"/><circle cx="450.35" cy="194.3" r="2.9" fill="#D6561A" stroke="#D6561A"/><circle cx="453.35" cy="194.3" r="2.9" fill="#2268B0" stroke="#2268B0"/><circle cx="459.85" cy="196.8" r="2.9" fill="#D6561A" stroke="#D6561A"/><circle cx="450.35" cy="199.3" r="2.9" fill="#D6561A" stroke="#D6561A"/><circle cx="451.35" cy="201.3" r="2.9" fill="#2268B0" stroke="#2268B0"/><circle cx="428.35" cy="201.8" r="2.9" fill="#D6561A" stroke="#D6561A"/><circle cx="420.35" cy="202.8" r="2.9" fill="#2268B0" stroke="#2268B0"/><circle cx="418.35" cy="197.3" r="2.9" fill="#2268B0" stroke="#2268B0"/><circle cx="418.35" cy="200.3" r="2.9" fill="#D6561A" stroke="#D6561A"/><circle cx="456.35" cy="204.8" r="2.9" fill="#2268B0" stroke="#2268B0"/><circle cx="430.85" cy="206.8" r="2.9" fill="#2268B0" stroke="#2268B0"/><circle cx="443.35" cy="211.6" r="2.9" fill="#D6561A" stroke="#D6561A"/><circle cx="482.85" cy="198.3" r="2.9" fill="#2268B0" stroke="#2268B0"/><circle cx="485.85" cy="201.3" r="2.9" fill="#2268B0" stroke="#2268B0"/><circle cx="488.85" cy="212.3" r="2.9" fill="#2268B0" stroke="#2268B0"/><circle cx="431.85" cy="210.8" r="2.9" fill="#2268B0" stroke="#2268B0"/><circle cx="427.35" cy="217.3" r="2.9" fill="#D6561A" stroke="#D6561A"/><circle cx="430.85" cy="216.8" r="2.9" fill="#D6561A" stroke="#D6561A"/><circle cx="426.85" cy="220.3" r="2.9" fill="#2268B0" stroke="#2268B0"/><circle cx="433.35" cy="222.3" r="2.9" fill="#2268B0" stroke="#2268B0"/><circle cx="457.85" cy="218.3" r="2.9" fill="#2268B0" stroke="#2268B0"/><circle cx="469.35" cy="225.3" r="2.9" fill="#2268B0" stroke="#2268B0"/><circle cx="464.35" cy="230.8" r="2.9" fill="#2268B0" stroke="#2268B0"/><circle cx="430.85" cy="231.8" r="2.9" fill="#2268B0" stroke="#2268B0"/><circle cx="427.85" cy="235.8" r="2.9" fill="#2268B0" stroke="#2268B0"/><circle cx="418.85" cy="236.3" r="2.9" fill="#2268B0" stroke="#2268B0"/><circle cx="402.85" cy="215.8" r="2.9" fill="#2268B0" stroke="#2268B0"/><circle cx="405.85" cy="218.3" r="2.9" fill="#2268B0" stroke="#2268B0"/><circle cx="407.35" cy="215.3" r="2.9" fill="#2268B0" stroke="#2268B0"/><circle cx="410.35" cy="215.3" r="2.9" fill="#2268B0" stroke="#2268B0"/><circle cx="412.35" cy="213.8" r="2.9" fill="#2268B0" stroke="#2268B0"/><circle cx="412.85" cy="225.3" r="2.9" fill="#2268B0" stroke="#2268B0"/><circle cx="409.35" cy="236.8" r="2.9" fill="#2268B0" stroke="#2268B0"/><circle cx="412.85" cy="237.8" r="2.9" fill="#2268B0" stroke="#2268B0"/><circle cx="358.85" cy="230.8" r="2.9" fill="#D6561A" stroke="#D6561A"/><circle cx="366.55" cy="252.3" r="2.9" fill="#D6561A" stroke="#D6561A"/><circle cx="427.35" cy="249.3" r="2.9" fill="#2268B0" stroke="#2268B0"/><circle cx="451.35" cy="150.3" r="2.9" fill="#2268B0" stroke="#2268B0"/><circle cx="447.35" cy="153.3" r="2.9" fill="#D6561A" stroke="#D6561A"/><circle cx="443.35" cy="161.3" r="2.9" fill="#2268B0" stroke="#2268B0"/><circle cx="445.35" cy="164.3" r="2.9" fill="#2268B0" stroke="#2268B0"/><circle cx="441.35" cy="166.3" r="2.9" fill="#2268B0" stroke="#2268B0"/><circle cx="458.35" cy="164.3" r="2.9" fill="#D6561A" stroke="#D6561A"/><circle cx="462.35" cy="167.3" r="2.9" fill="#D6561A" stroke="#D6561A"/><circle cx="463.35" cy="158.3" r="2.9" fill="#2268B0" stroke="#2268B0"/><circle cx="467.35" cy="163.3" r="2.9" fill="#2268B0" stroke="#2268B0"/><circle cx="471.35" cy="146.3" r="2.9" fill="#2268B0" stroke="#2268B0"/><circle cx="469.35" cy="153.8" r="2.9" fill="#2268B0" stroke="#2268B0"/><circle cx="465.35" cy="143.3" r="2.9" fill="#D6561A" stroke="#D6561A"/><circle cx="453.35" cy="170.3" r="2.9" fill="#2268B0" stroke="#2268B0"/><circle cx="508.35" cy="115.6" r="2.9" fill="#D6561A" stroke="#D6561A"/><circle cx="511.05" cy="116.8" r="2.9" fill="#D6561A" stroke="#D6561A"/><circle cx="507.05" cy="119.3" r="2.9" fill="#D6561A" stroke="#D6561A"/><circle cx="503.65" cy="103.8" r="2.9" fill="#D6561A" stroke="#D6561A"/><circle cx="509.05" cy="101.3" r="2.9" fill="#D6561A" stroke="#D6561A"/><circle cx="470.35" cy="127.8" r="2.9" fill="#2268B0" stroke="#2268B0"/><circle cx="478.35" cy="128.3" r="2.9" fill="#D6561A" stroke="#D6561A"/><circle cx="485.35" cy="127.0" r="2.9" fill="#2268B0" stroke="#2268B0"/><circle cx="470.35" cy="135.3" r="2.9" fill="#2268B0" stroke="#2268B0"/><circle cx="473.35" cy="138.8" r="2.9" fill="#2268B0" stroke="#2268B0"/><circle cx="480.35" cy="137.0" r="2.9" fill="#2268B0" stroke="#2268B0"/><circle cx="467.05" cy="142.0" r="2.9" fill="#D6561A" stroke="#D6561A"/><circle cx="473.35" cy="145.3" r="2.9" fill="#2268B0" stroke="#2268B0"/><circle cx="482.05" cy="148.6" r="2.9" fill="#2268B0" stroke="#2268B0"/><circle cx="453.35" cy="145.3" r="2.9" fill="#2268B0" stroke="#2268B0"/><circle cx="489.35" cy="137.3" r="2.9" fill="#D6561A" stroke="#D6561A"/><circle cx="481.35" cy="149.1" r="2.9" fill="#D6561A" stroke="#D6561A"/></g>
<line x1="271.50" y1="338.00" x2="583.30" y2="36.20" stroke="#000000" stroke-width="1.7"/>
</svg></body></html>
